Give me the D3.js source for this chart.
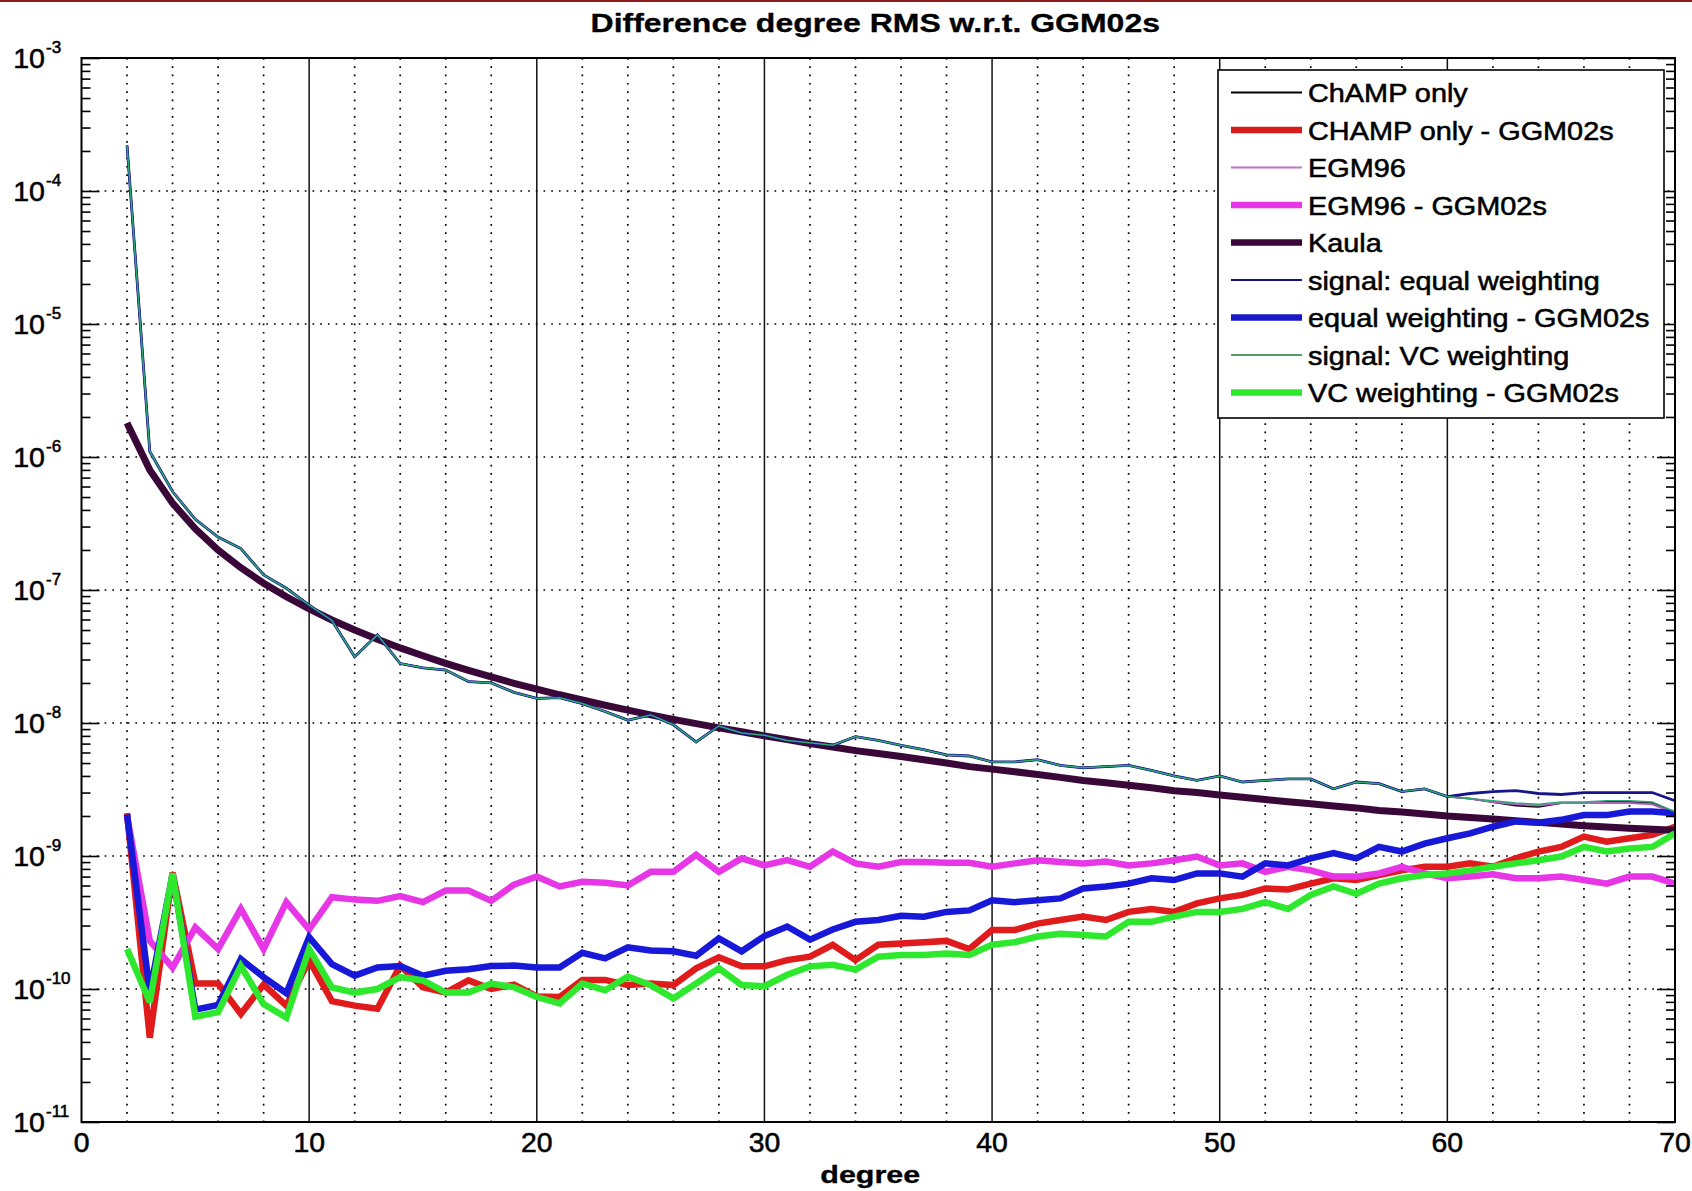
<!DOCTYPE html>
<html>
<head>
<meta charset="utf-8">
<script src="https://cdn.jsdelivr.net/npm/d3@7"></script>
<style>
  html, body { margin: 0; padding: 0; background: #ffffff; }
  svg { display: block; }
  text { font-family: "Liberation Sans", Arial, Helvetica, sans-serif; fill: #000; }
  text.reg { stroke: #000; stroke-width: 0.55px; }
  text.bold { stroke: #000; stroke-width: 0.3px; }
</style>
</head>
<body>
<svg id="chart" width="1692" height="1191"></svg>
<script>
// Spherical-harmonic degrees on the x axis
const degrees = [2,3,4,5,6,7,8,9,10,11,12,13,14,15,16,17,18,19,20,21,22,23,24,25,26,27,28,29,30,
  31,32,33,34,35,36,37,38,39,40,41,42,43,44,45,46,47,48,49,50,51,52,53,54,55,56,57,58,59,60,
  61,62,63,64,65,66,67,68,69,70];

// Degree RMS of the signal models
const champOnly = [2.2e-4,1.1e-6,5.5e-7,3.4e-7,2.5e-7,2.05e-7,1.3e-7,1.03e-7,7.7e-8,5.9e-8,3.15e-8,4.6e-8,
  2.8e-8,2.6e-8,2.5e-8,2.05e-8,2.0e-8,1.7e-8,1.53e-8,1.55e-8,1.4e-8,1.22e-8,1.05e-8,1.15e-8,9.7e-9,7.2e-9,
  9.5e-9,8.4e-9,8.1e-9,7.4e-9,7.1e-9,6.8e-9,7.9e-9,7.4e-9,6.8e-9,6.3e-9,5.75e-9,5.65e-9,5.1e-9,5.1e-9,
  5.3e-9,4.8e-9,4.6e-9,4.7e-9,4.8e-9,4.4e-9,4.0e-9,3.7e-9,4.0e-9,3.6e-9,3.7e-9,3.8e-9,3.8e-9,3.2e-9,
  3.6e-9,3.5e-9,3.05e-9,3.2e-9,2.8e-9,2.7e-9,2.55e-9,2.4e-9,2.35e-9,2.5e-9,2.5e-9,2.55e-9,2.55e-9,2.5e-9,2.1e-9];
const egm96 = [2.2e-4,1.1e-6,5.5e-7,3.4e-7,2.5e-7,2.05e-7,1.3e-7,1.03e-7,7.7e-8,5.9e-8,3.15e-8,4.6e-8,
  2.8e-8,2.6e-8,2.5e-8,2.05e-8,2.0e-8,1.7e-8,1.53e-8,1.55e-8,1.4e-8,1.22e-8,1.05e-8,1.15e-8,9.7e-9,7.2e-9,
  9.5e-9,8.4e-9,8.1e-9,7.4e-9,7.1e-9,6.8e-9,7.9e-9,7.4e-9,6.8e-9,6.3e-9,5.75e-9,5.65e-9,5.1e-9,5.1e-9,
  5.3e-9,4.8e-9,4.6e-9,4.7e-9,4.8e-9,4.4e-9,4.0e-9,3.7e-9,4.0e-9,3.6e-9,3.7e-9,3.8e-9,3.8e-9,3.2e-9,
  3.6e-9,3.5e-9,3.05e-9,3.2e-9,2.8e-9,2.7e-9,2.55e-9,2.45e-9,2.4e-9,2.5e-9,2.5e-9,2.5e-9,2.5e-9,2.45e-9,2.1e-9];
const signalEqual = [2.2e-4,1.1e-6,5.5e-7,3.4e-7,2.5e-7,2.05e-7,1.3e-7,1.03e-7,7.7e-8,5.9e-8,3.15e-8,4.6e-8,
  2.8e-8,2.6e-8,2.5e-8,2.05e-8,2.0e-8,1.7e-8,1.53e-8,1.55e-8,1.4e-8,1.22e-8,1.05e-8,1.15e-8,9.7e-9,7.2e-9,
  9.5e-9,8.4e-9,8.1e-9,7.4e-9,7.1e-9,6.8e-9,7.9e-9,7.4e-9,6.8e-9,6.3e-9,5.75e-9,5.65e-9,5.1e-9,5.1e-9,
  5.3e-9,4.8e-9,4.6e-9,4.7e-9,4.8e-9,4.4e-9,4.0e-9,3.7e-9,4.0e-9,3.6e-9,3.7e-9,3.8e-9,3.8e-9,3.2e-9,
  3.6e-9,3.5e-9,3.05e-9,3.2e-9,2.8e-9,2.95e-9,3.05e-9,3.1e-9,2.95e-9,2.9e-9,3.0e-9,3.0e-9,3.0e-9,3.0e-9,2.6e-9];
const signalVC = [2.2e-4,1.1e-6,5.5e-7,3.4e-7,2.5e-7,2.05e-7,1.3e-7,1.03e-7,7.7e-8,5.9e-8,3.15e-8,4.6e-8,
  2.8e-8,2.6e-8,2.5e-8,2.05e-8,2.0e-8,1.7e-8,1.53e-8,1.55e-8,1.4e-8,1.22e-8,1.05e-8,1.15e-8,9.7e-9,7.2e-9,
  9.5e-9,8.4e-9,8.1e-9,7.4e-9,7.1e-9,6.8e-9,7.9e-9,7.4e-9,6.8e-9,6.3e-9,5.75e-9,5.65e-9,5.1e-9,5.1e-9,
  5.3e-9,4.8e-9,4.6e-9,4.7e-9,4.8e-9,4.4e-9,4.0e-9,3.7e-9,4.0e-9,3.6e-9,3.7e-9,3.8e-9,3.8e-9,3.2e-9,
  3.6e-9,3.5e-9,3.05e-9,3.2e-9,2.8e-9,2.7e-9,2.6e-9,2.5e-9,2.45e-9,2.55e-9,2.55e-9,2.6e-9,2.6e-9,2.55e-9,2.15e-9];

// Kaula rule of thumb
const kaula = [1.8e-6,8.0e-7,4.5e-7,2.88e-7,2.0e-7,1.47e-7,1.125e-7,8.9e-8,7.2e-8,5.95e-8,5.0e-8,4.26e-8,
  3.67e-8,3.2e-8,2.81e-8,2.49e-8,2.22e-8,1.99e-8,1.8e-8,1.63e-8,1.49e-8,1.36e-8,1.25e-8,1.15e-8,1.065e-8,
  9.9e-9,9.2e-9,8.6e-9,8.0e-9,7.5e-9,7.0e-9,6.6e-9,6.2e-9,5.9e-9,5.6e-9,5.3e-9,5.0e-9,4.7e-9,4.5e-9,
  4.3e-9,4.1e-9,3.9e-9,3.7e-9,3.55e-9,3.4e-9,3.26e-9,3.1e-9,3.0e-9,2.88e-9,2.77e-9,2.66e-9,2.56e-9,
  2.47e-9,2.38e-9,2.3e-9,2.2e-9,2.14e-9,2.07e-9,2.0e-9,1.95e-9,1.9e-9,1.84e-9,1.79e-9,1.74e-9,1.69e-9,
  1.65e-9,1.62e-9,1.59e-9,1.56e-9];

// Differences with respect to GGM02s
const champDiff = [2.1e-9,4.3e-11,7.5e-10,1.1e-10,1.1e-10,6.5e-11,1.08e-10,7.5e-11,1.65e-10,8.1e-11,7.5e-11,
  7.1e-11,1.5e-10,1.03e-10,9.4e-11,1.16e-10,1.0e-10,1.08e-10,8.8e-11,8.7e-11,1.17e-10,1.17e-10,1.07e-10,
  1.1e-10,1.07e-10,1.43e-10,1.73e-10,1.48e-10,1.48e-10,1.65e-10,1.75e-10,2.15e-10,1.65e-10,2.15e-10,2.2e-10,
  2.25e-10,2.3e-10,2.0e-10,2.78e-10,2.78e-10,3.1e-10,3.3e-10,3.5e-10,3.3e-10,3.8e-10,4.0e-10,3.8e-10,4.4e-10,
  4.8e-10,5.1e-10,5.7e-10,5.6e-10,6.2e-10,6.8e-10,6.6e-10,7.2e-10,7.8e-10,8.3e-10,8.3e-10,8.8e-10,8.3e-10,
  9.6e-10,1.08e-9,1.17e-9,1.4e-9,1.28e-9,1.36e-9,1.44e-9,1.66e-9];
const egm96Diff = [2.0e-9,2.3e-10,1.45e-10,2.9e-10,2.0e-10,4.0e-10,2.0e-10,4.5e-10,2.8e-10,4.9e-10,4.7e-10,
  4.6e-10,5.0e-10,4.5e-10,5.5e-10,5.5e-10,4.6e-10,6.1e-10,7.0e-10,5.9e-10,6.4e-10,6.3e-10,6.0e-10,7.6e-10,
  7.6e-10,1.02e-9,7.6e-10,9.6e-10,8.5e-10,9.3e-10,8.3e-10,1.08e-9,8.8e-10,8.3e-10,9.0e-10,9.0e-10,8.9e-10,
  8.9e-10,8.3e-10,8.8e-10,9.3e-10,9.0e-10,8.8e-10,9.1e-10,8.5e-10,8.8e-10,9.3e-10,9.9e-10,8.5e-10,8.8e-10,
  7.6e-10,8.3e-10,7.8e-10,7.0e-10,7.0e-10,7.4e-10,8.3e-10,7.4e-10,6.8e-10,7.0e-10,7.3e-10,6.8e-10,6.8e-10,
  7.0e-10,6.6e-10,6.2e-10,7.0e-10,7.0e-10,6.2e-10];
const equalDiff = [2.05e-9,9.5e-11,7.2e-10,7.0e-11,7.6e-11,1.68e-10,1.23e-10,9.3e-11,2.45e-10,1.54e-10,1.26e-10,
  1.45e-10,1.49e-10,1.26e-10,1.37e-10,1.41e-10,1.49e-10,1.5e-10,1.45e-10,1.45e-10,1.87e-10,1.7e-10,2.06e-10,
  1.95e-10,1.92e-10,1.78e-10,2.4e-10,1.92e-10,2.5e-10,2.95e-10,2.35e-10,2.8e-10,3.2e-10,3.3e-10,3.55e-10,
  3.5e-10,3.8e-10,3.9e-10,4.65e-10,4.5e-10,4.65e-10,4.8e-10,5.7e-10,5.9e-10,6.2e-10,6.8e-10,6.6e-10,7.4e-10,
  7.4e-10,7.0e-10,8.8e-10,8.5e-10,9.6e-10,1.05e-9,9.6e-10,1.17e-9,1.08e-9,1.24e-9,1.36e-9,1.48e-9,1.66e-9,
  1.82e-9,1.78e-9,1.87e-9,2.03e-9,2.03e-9,2.16e-9,2.16e-9,2.1e-9];
const vcDiff = [2.0e-10,8.0e-11,7.4e-10,6.2e-11,6.7e-11,1.49e-10,7.7e-11,6.1e-11,2.0e-10,1.03e-10,9.4e-11,
  1.0e-10,1.23e-10,1.16e-10,9.4e-11,9.4e-11,1.1e-10,1.03e-10,8.7e-11,7.8e-11,1.1e-10,9.8e-11,1.24e-10,
  1.07e-10,8.5e-11,1.1e-10,1.43e-10,1.07e-10,1.05e-10,1.28e-10,1.48e-10,1.52e-10,1.4e-10,1.75e-10,1.8e-10,
  1.8e-10,1.85e-10,1.8e-10,2.15e-10,2.25e-10,2.48e-10,2.6e-10,2.55e-10,2.48e-10,3.2e-10,3.2e-10,3.5e-10,
  3.8e-10,3.8e-10,4.0e-10,4.5e-10,4.0e-10,5.1e-10,5.9e-10,5.2e-10,6.2e-10,6.8e-10,7.2e-10,7.4e-10,7.8e-10,
  8.3e-10,8.8e-10,9.3e-10,9.9e-10,1.17e-9,1.08e-9,1.14e-9,1.17e-9,1.48e-9];

// Axis ticks
const xTickValues = [0,10,20,30,40,50,60,70];
const yExponents = [-3,-4,-5,-6,-7,-8,-9,-10,-11];

// Series in plotting order (later ones drawn on top)
const series = [
  { name: "ChAMP only",               values: champOnly,   color: "#000000", width: 2.0, legendColor: "#000000" },
  { name: "CHAMP only - GGM02s",      values: champDiff,   color: "#e01b1b", width: 6.5, legendColor: "#d81c1c" },
  { name: "EGM96",                    values: egm96,       color: "#b060c0", width: 2.0, legendColor: "#c070c8" },
  { name: "EGM96 - GGM02s",           values: egm96Diff,   color: "#e636e6", width: 6.5, legendColor: "#e636e6" },
  { name: "Kaula",                    values: kaula,       color: "#3a0838", width: 7,   legendColor: "#3a0838" },
  { name: "signal: equal weighting",  values: signalEqual, color: "#16168a", width: 2.8, legendColor: "#14147a" },
  { name: "equal weighting - GGM02s", values: equalDiff,   color: "#1818d8", width: 6.5, legendColor: "#1818c8" },
  { name: "signal: VC weighting",     values: signalVC,    color: "#30a878", width: 1.5, legendColor: "#5a9a6a" },
  { name: "VC weighting - GGM02s",    values: vcDiff,      color: "#2ee82e", width: 6.5, legendColor: "#2ee82e" }
];

const svg = d3.select("#chart");
const plot = { left: 81.5, right: 1675, top: 58, bottom: 1122 };

const x = d3.scaleLinear().domain([0, 70]).range([plot.left, plot.right]);
const y = d3.scaleLog().domain([1e-11, 1e-3]).range([plot.bottom, plot.top]);

// Text drawn with a slight horizontal stretch
function label(parent, px, py, str, size, sx, anchor, weight) {
  return parent.append("text")
    .attr("class", weight === "bold" ? "bold" : "reg")
    .attr("transform", `translate(${px},${py}) scale(${sx},1)`)
    .attr("text-anchor", anchor)
    .attr("font-size", size)
    .attr("font-weight", weight || "normal")
    .text(str);
}

// thin dark red rule at the very top
svg.append("rect").attr("x", 0).attr("y", 0).attr("width", 1692).attr("height", 2).attr("fill", "#8c1c1c");

// ---- grid ----
const grid = svg.append("g");
const decades = yExponents.map(e => Math.pow(10, e));
grid.selectAll("line.hgrid")
  .data(decades.filter(v => v > 1e-11 && v < 1e-3))
  .enter().append("line")
  .attr("x1", plot.left).attr("x2", plot.right)
  .attr("y1", d => y(d)).attr("y2", d => y(d))
  .attr("stroke", "#000").attr("stroke-width", 1.7).attr("stroke-dasharray", "1.7 6");

const minorX = d3.range(2, 70, 2).filter(d => d % 10 !== 0);
grid.selectAll("line.vgrid")
  .data(minorX)
  .enter().append("line")
  .attr("x1", d => x(d)).attr("x2", d => x(d))
  .attr("y1", plot.top).attr("y2", plot.bottom)
  .attr("stroke", "#000").attr("stroke-width", 1.7).attr("stroke-dasharray", "1.7 6.6");

grid.selectAll("line.vmajor")
  .data(xTickValues.filter(d => d > 0 && d < 70))
  .enter().append("line")
  .attr("x1", d => x(d)).attr("x2", d => x(d))
  .attr("y1", plot.top).attr("y2", plot.bottom)
  .attr("stroke", "#111").attr("stroke-width", 1.5);

// ---- curves ----
const line = d3.line()
  .x((d, i) => x(degrees[i]))
  .y(d => y(d));

const curves = svg.append("g");
series.forEach(s => {
  curves.append("path")
    .datum(s.values)
    .attr("d", line)
    .attr("fill", "none")
    .attr("stroke", s.color)
    .attr("stroke-width", s.width)
    .attr("stroke-linejoin", "miter")
    .attr("stroke-miterlimit", 3);
});

// ---- axes frame and ticks ----
const minorY = [];
for (let e = -11; e < -3; e++) {
  for (let m = 2; m <= 9; m++) minorY.push(m * Math.pow(10, e));
}
const axisLayer = svg.append("g");
function drawTicks(axisFn, xPos, values, len) {
  const g = axisLayer.append("g").attr("transform", `translate(${xPos},0)`)
    .call(axisFn(y).tickValues(values).tickSizeInner(-len).tickSizeOuter(0).tickFormat(""));
  g.select(".domain").remove();
  g.selectAll(".tick line").attr("stroke", "#000").attr("stroke-width", 1.6);
}
drawTicks(d3.axisLeft, plot.left, minorY, 9);
drawTicks(d3.axisLeft, plot.left, decades, 18);
drawTicks(d3.axisRight, plot.right, minorY, 9);
drawTicks(d3.axisRight, plot.right, decades, 18);

axisLayer.append("rect")
  .attr("x", plot.left).attr("y", plot.top)
  .attr("width", plot.right - plot.left).attr("height", plot.bottom - plot.top)
  .attr("fill", "none").attr("stroke", "#000").attr("stroke-width", 2);

// y tick labels: 10 with superscript exponent
yExponents.forEach(e => {
  const py = y(Math.pow(10, e));
  label(axisLayer, 45, py + 10, "10", 28, 1.02, "end");
  label(axisLayer, 46, py - 5, String(e), 17, 1.0, "start");
});

// x tick labels
xTickValues.forEach(v => {
  label(axisLayer, x(v), 1152, String(v), 27, 1.05, "middle");
});

// axis title and chart title
label(svg, (plot.left + plot.right) / 2 - 8, 1183, "degree", 24, 1.27, "middle", "bold");
label(svg, (plot.left + plot.right) / 2 - 3, 32, "Difference degree RMS w.r.t. GGM02s", 25, 1.28, "middle", "bold");

// ---- legend ----
const legend = svg.append("g");
const lg = { x0: 1218, y0: 70, x1: 1664, y1: 418, rowStart: 92.5, rowStep: 37.5 };
legend.append("rect")
  .attr("x", lg.x0).attr("y", lg.y0)
  .attr("width", lg.x1 - lg.x0).attr("height", lg.y1 - lg.y0)
  .attr("fill", "#fff").attr("stroke", "#000").attr("stroke-width", 1.6);
series.forEach((s, i) => {
  const ry = lg.rowStart + i * lg.rowStep;
  legend.append("line")
    .attr("x1", 1231).attr("x2", 1302)
    .attr("y1", ry).attr("y2", ry)
    .attr("stroke", s.legendColor)
    .attr("stroke-width", s.width > 3 ? 6.5 : 1.8);
  label(legend, 1308, ry + 9.5, s.name, 26, 1.11, "start");
});
</script>
</body>
</html>
